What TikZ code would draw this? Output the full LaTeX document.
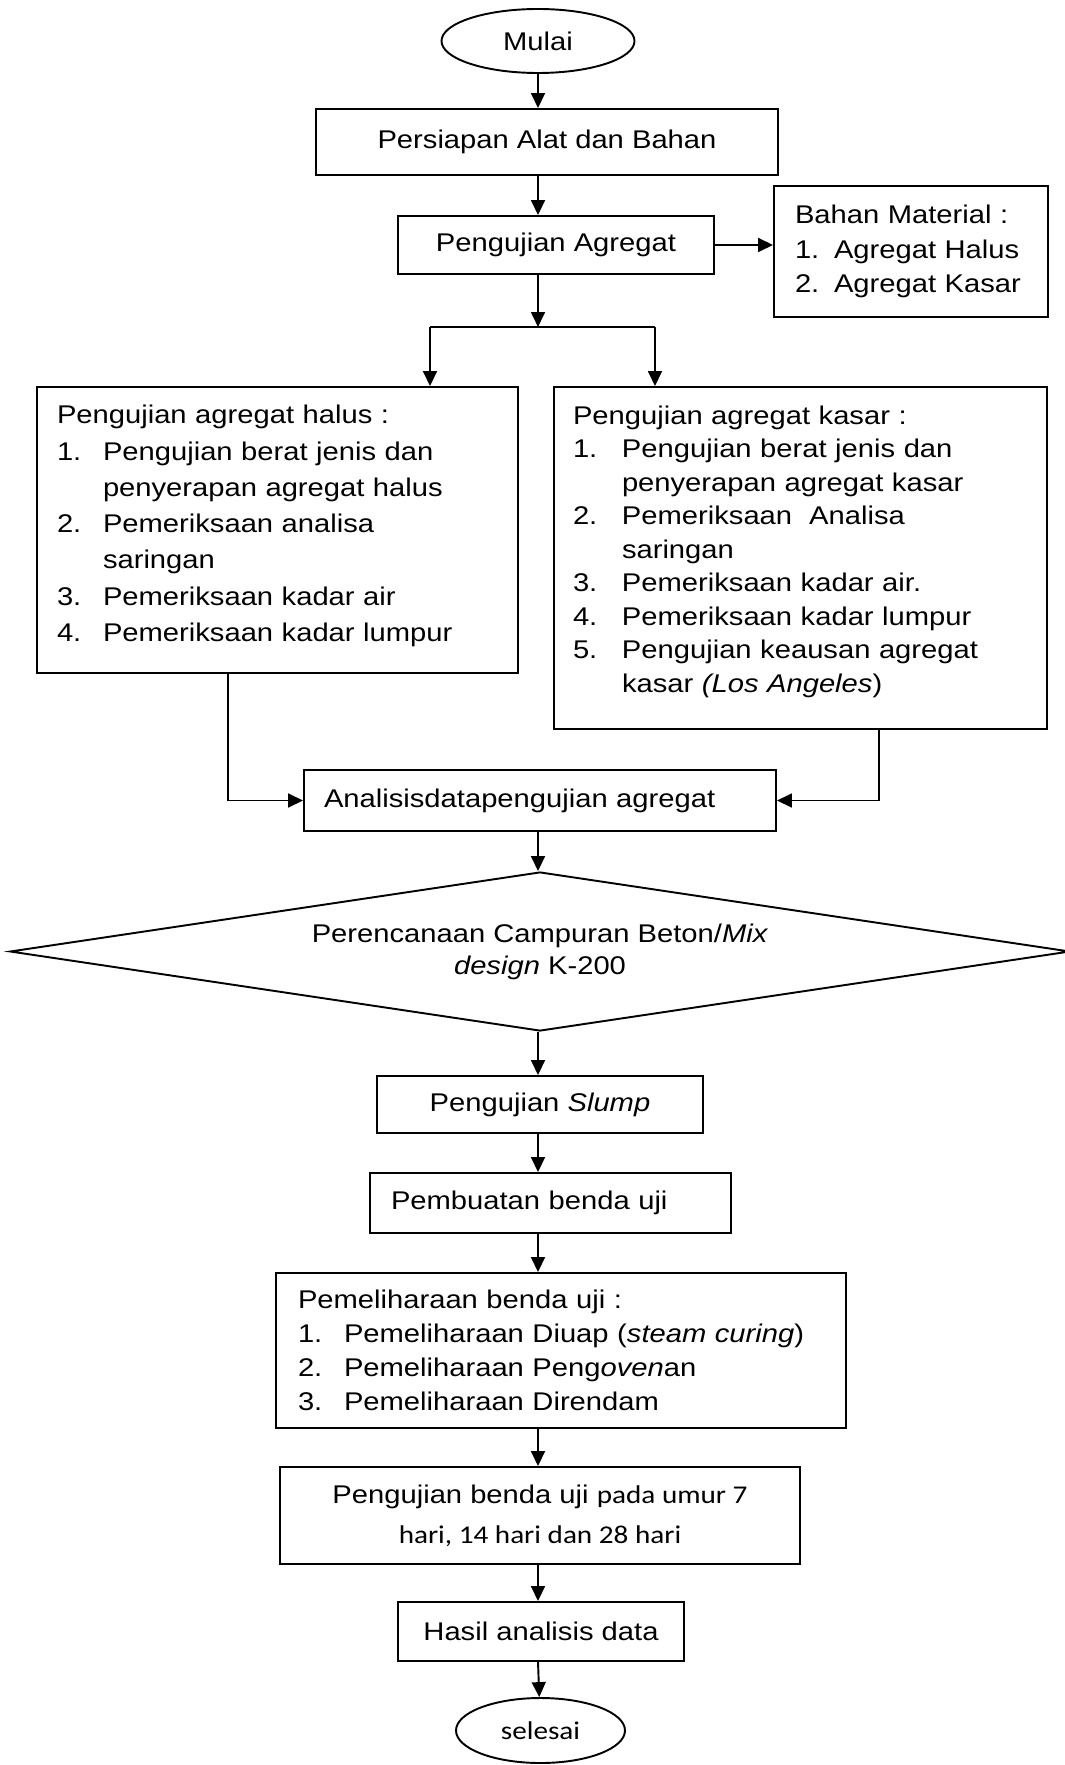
\documentclass[tikz,border=0pt]{standalone}
\usepackage{fontspec}
\setmainfont{Liberation Sans}[FakeStretch=1.14]
\newfontfamily\calibri{Carlito}[FakeStretch=1.14]
\usetikzlibrary{shapes.geometric,arrows.meta}

\newdimen\pxu
\pxu=0.469pt
\newcommand{\butir}[2][46]{\makebox[#1\pxu][l]{#2}}
\newcommand{\lanjut}[1][46]{\hspace*{#1\pxu}}

\begin{document}
\begin{tikzpicture}[
            x=\pxu, y=-\pxu,
            kotak/.style={draw, rectangle, line width=0.9pt, inner ysep=0pt, font=\fontsize{12}{16}\selectfont},
            daftar/.style={kotak, align=left},
            terminal/.style={draw, ellipse, line width=0.9pt, inner sep=0pt, font=\fontsize{12}{14}\selectfont},
            panah/.style={line width=0.9pt, -{Triangle[length=7pt,width=6.5pt]}},
            garis/.style={line width=0.9pt}
        ]
            \useasboundingbox (0,0) rectangle (1064,1765);

            \node[terminal, minimum width=193\pxu, minimum height=64\pxu] (mulai) at (538,41) {Mulai};
            \node[kotak, minimum width=462\pxu, minimum height=66\pxu] (persiapan) at (547,142) {Persiapan Alat dan Bahan};
            \node[kotak, minimum width=316\pxu, minimum height=58\pxu] (agregat) at (556,245) {Pengujian Agregat};
            \node[daftar, text width=232\pxu, inner xsep=21\pxu, minimum height=131\pxu] (bahan) at (911,251.5) {
                Bahan Material :\\
                \butir[39]{1.}Agregat Halus\\
                \butir[39]{2.}Agregat Kasar};

            \node[daftar, text width=441\pxu, inner xsep=20\pxu, minimum height=286\pxu, text depth=108.3pt,
                font=\fontsize{12}{17}\selectfont] (halus) at (277.5,530) {
                Pengujian agregat halus :\\
                \butir{1.}Pengujian berat jenis dan\\
                \lanjut penyerapan agregat halus\\
                \butir{2.}Pemeriksaan analisa\\
                \lanjut saringan\\
                \butir{3.}Pemeriksaan kadar air\\
                \butir{4.}Pemeriksaan kadar lumpur};
            \node[daftar, text width=455\pxu, inner xsep=19\pxu, minimum height=342\pxu, text depth=134pt,
                font=\fontsize{12}{15.7}\selectfont] (kasar) at (800.5,558) {
                Pengujian agregat kasar :\\
                \butir[49]{1.}Pengujian berat jenis dan\\
                \lanjut[49]penyerapan agregat kasar\\
                \butir[49]{2.}Pemeriksaan\ \ Analisa\\
                \lanjut[49]saringan\\
                \butir[49]{3.}Pemeriksaan kadar air.\\
                \butir[49]{4.}Pemeriksaan kadar lumpur\\
                \butir[49]{5.}Pengujian keausan agregat\\
                \lanjut[49]kasar \textit{(Los Angeles})};

            \node[daftar, text width=432\pxu, inner xsep=20\pxu, minimum height=61\pxu] (analisis) at (540,800.5) {Analisisdatapengujian agregat};
            \node[draw, diamond, aspect=6.67, line width=0.9pt, inner sep=0pt, minimum width=1060\pxu, minimum height=159\pxu,
                align=center, font=\fontsize{12}{15}\selectfont] (rencana) at (540,951.5) {
                Perencanaan Campuran Beton/\textit{Mix}\\
                \textit{design} K-200};

            \node[kotak, minimum width=326\pxu, minimum height=57\pxu] (slump) at (540,1104.5) {Pengujian \textit{Slump}};
            \node[daftar, text width=319\pxu, inner xsep=21\pxu, minimum height=60\pxu] (pembuatan) at (550.5,1203) {Pembuatan benda uji};
            \node[daftar, text width=526\pxu, inner xsep=22\pxu, minimum height=155\pxu] (pemeliharaan) at (561,1350.5) {
                Pemeliharaan benda uji :\\
                \butir{1.}Pemeliharaan Diuap (\textit{steam curing})\\
                \butir{2.}Pemeliharaan Peng\textit{oven}an\\
                \butir{3.}Pemeliharaan Direndam};
            \node[kotak, minimum width=520\pxu, minimum height=97\pxu, align=center,
                font=\fontsize{12}{18.8}\selectfont] (uji) at (540,1515.5) {
                Pengujian benda uji {\calibri pada umur 7}\\
                {\calibri hari, 14 hari dan 28 hari}};
            \node[kotak, minimum width=286\pxu, minimum height=59\pxu] (hasil) at (541,1631.5) {Hasil analisis data};
            \node[terminal, minimum width=169\pxu, minimum height=65\pxu, font=\calibri\fontsize{12}{14}\selectfont] (selesai) at (540.5,1730.5) {selesai};

            \coordinate (cabangkiri) at (430,327);
            \coordinate (cabangkanan) at (655,327);

            \draw[panah] (mulai) -- (mulai |- persiapan.north);
            \draw[panah] (persiapan.south -| mulai) -- (agregat.north -| mulai);
            \draw[panah] (agregat.east) -- (agregat.east -| bahan.west);
            \draw[panah] (agregat.south -| mulai) -- (mulai |- cabangkiri);
            \draw[garis] (cabangkiri) -- (cabangkanan);
            \draw[panah] (cabangkiri) -- (cabangkiri |- halus.north);
            \draw[panah] (cabangkanan) -- (cabangkanan |- kasar.north);
            \draw[panah] ([xshift=-49.5\pxu]halus.south) |- (analisis.west);
            \draw[panah] ([xshift=78.5\pxu]kasar.south) |- (analisis.east);
            \draw[panah] (analisis.south -| mulai) -- (rencana.north -| mulai);
            \draw[panah] (rencana.south -| mulai) -- (slump.north -| mulai);
            \draw[panah] (slump.south -| mulai) -- (pembuatan.north -| mulai);
            \draw[panah] (pembuatan.south -| mulai) -- (pemeliharaan.north -| mulai);
            \draw[panah] (pemeliharaan.south -| mulai) -- (uji.north -| mulai);
            \draw[panah] (uji.south -| mulai) -- (hasil.north -| mulai);
            \draw[panah] (hasil.south -| mulai) -- (selesai);
        \end{tikzpicture}
\end{document}
